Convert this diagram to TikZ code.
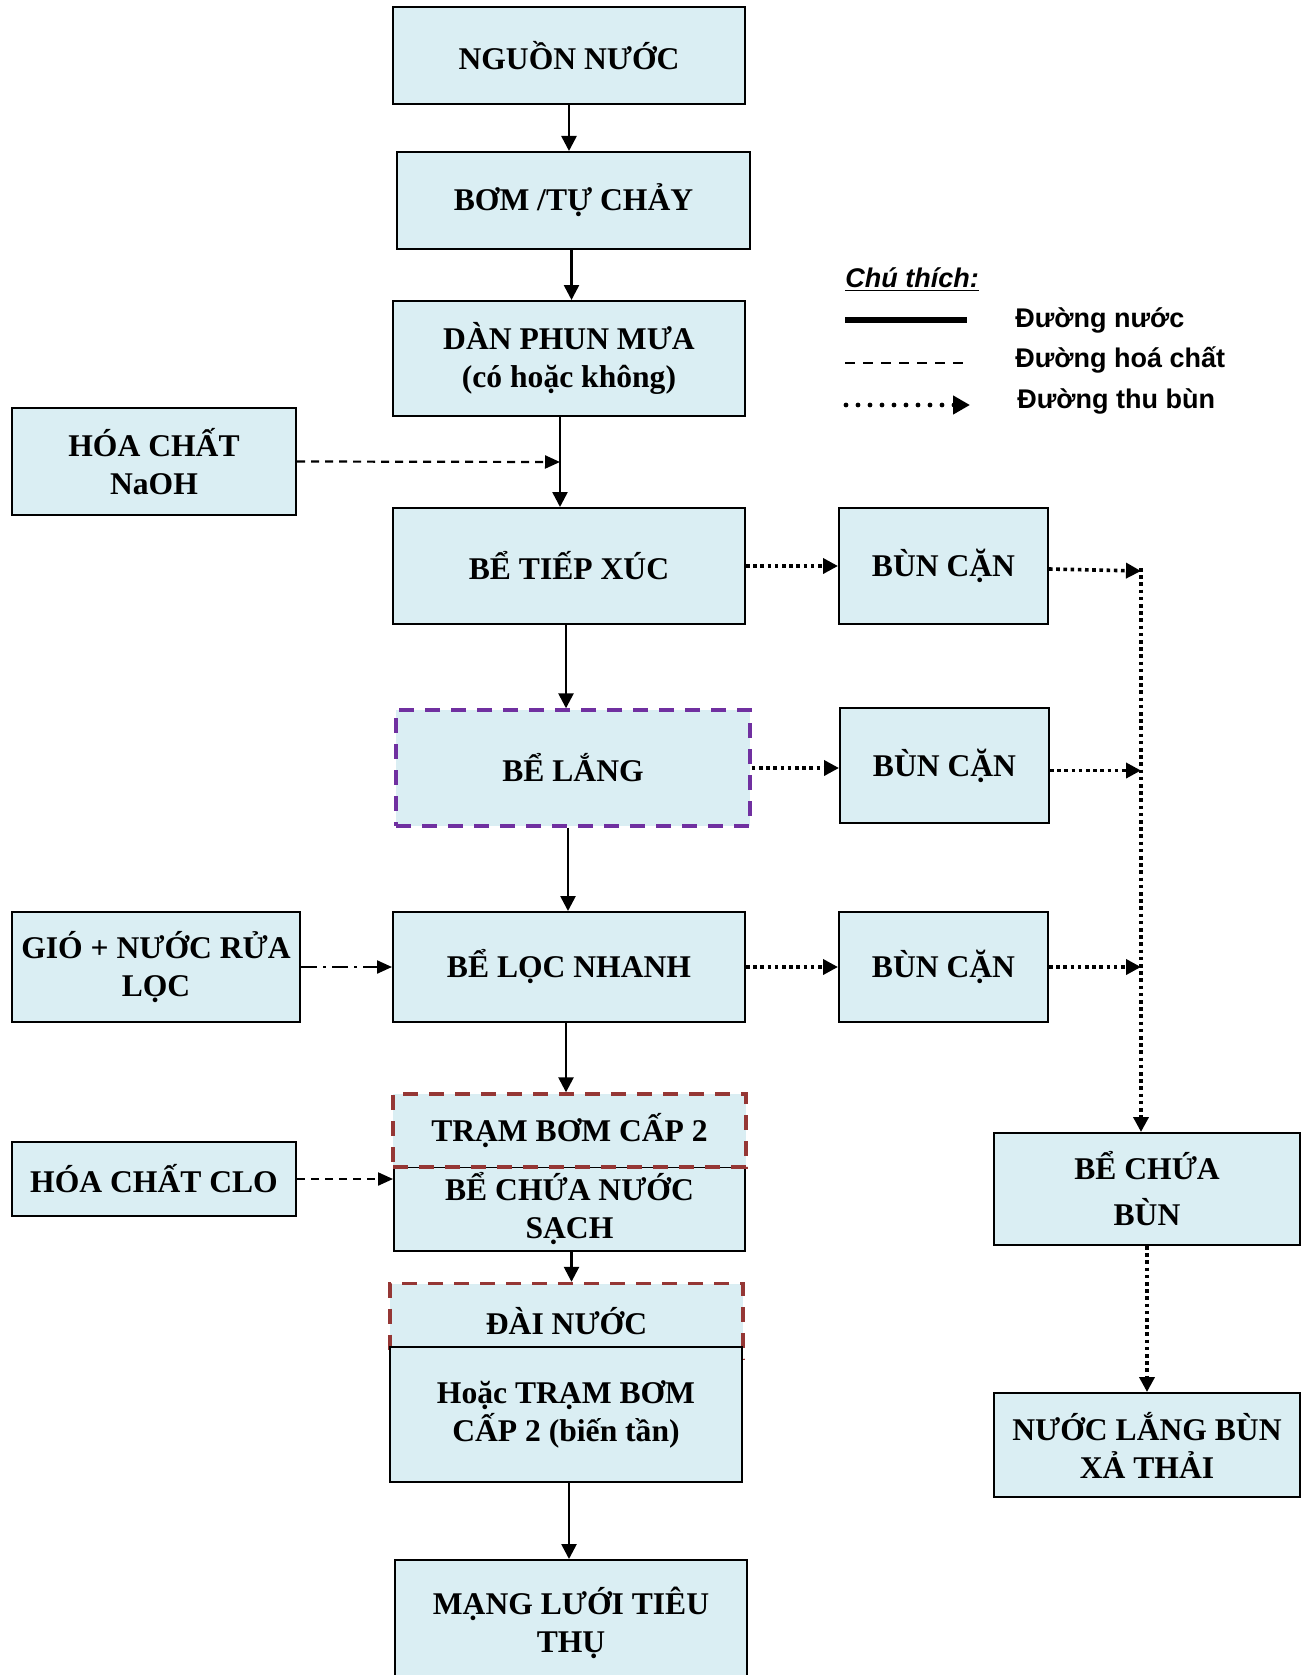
\documentclass[tikz,border=0pt]{standalone}
\usepackage{fontspec}
\setmainfont{Liberation Serif}
\newfontfamily\legendfont{Liberation Sans}
\usetikzlibrary{arrows.meta,calc}
\definecolor{boxfill}{HTML}{DAEEF3}
\definecolor{settlepurple}{HTML}{7030A0}
\definecolor{pumpred}{HTML}{953735}
\tikzset{
    flow box/.style={
        draw=black,
        line width=1pt,
        fill=boxfill,
        align=center,
        inner sep=2pt,
        font=\bfseries\fontsize{15.8}{19}\selectfont
    },
    purple box/.style={
        flow box,
        draw=settlepurple,
        line width=1.7pt,
        dash pattern=on 7.5pt off 5.5pt
    },
    red box/.style={
        flow box,
        draw=pumpred,
        line width=1.7pt,
        dash pattern=on 7.5pt off 5.5pt
    },
    water line/.style={
        line width=1.3pt,
        -{Triangle[length=7.5pt,width=7.5pt]}
    },
    chem line/.style={
        line width=1.1pt,
        dash pattern=on 4pt off 3pt,
        -{Triangle[length=7.5pt,width=6.5pt]}
    },
    air line/.style={
        line width=1.1pt,
        dash pattern=on 8pt off 3pt on 1.5pt off 3pt,
        -{Triangle[length=7.5pt,width=6.5pt]}
    },
    sludge line/.style={
        line width=1.8pt,
        dash pattern=on 1.8pt off 1.8pt,
        -{Triangle[length=7.5pt,width=7.5pt]}
    },
    legend text/.style={
        anchor=west,
        inner sep=0pt,
        font=\legendfont\bfseries\fontsize{13.5}{16}\selectfont
    }
}

\begin{document}
\begin{tikzpicture}[x=0.5pt,y=-0.5pt]
                \clip (0,0) rectangle (1307,1675);
                \node[flow box, minimum width=176pt, minimum height=48.5pt] (nguon) at (569,56) {NGUỒN NƯỚC};
                \node[flow box, minimum width=176.5pt, minimum height=48.5pt] (bom) at (573.5,200.5) {BƠM /TỰ CHẢY};
                \node[flow box, minimum width=176pt, minimum height=57.5pt] (dan) at (569,358.5) {DÀN PHUN MƯA\\(có hoặc không)};
                \node[flow box, minimum width=142pt, minimum height=53.5pt] (naoh) at (154,461.5) {HÓA CHẤT\\NaOH};
                \node[flow box, minimum width=176pt, minimum height=58pt] (tiepxuc) at (569,566) {BỂ TIẾP XÚC};
                \node[flow box, minimum width=104.5pt, minimum height=58pt] (bun1) at (943.5,566) {BÙN CẶN};
                \node[purple box, minimum width=177pt, minimum height=58pt] (lang) at (573,768) {BỂ LẮNG};
                \node[flow box, minimum width=104.5pt, minimum height=57.5pt] (bun2) at (944.5,765.5) {BÙN CẶN};
                \node[flow box, minimum width=144pt, minimum height=55pt] (gio) at (156,967) {GIÓ + NƯỚC RỬA\\LỌC};
                \node[flow box, minimum width=176pt, minimum height=55pt] (loc) at (569,967) {BỂ LỌC NHANH};
                \node[flow box, minimum width=104.5pt, minimum height=55pt] (bun3) at (943.5,967) {BÙN CẶN};
                \node[flow box, minimum width=175.5pt, minimum height=42pt] (chua) at (569.5,1209) {BỂ CHỨA NƯỚC\\SẠCH};
                \node[red box, minimum width=176.5pt, minimum height=36.5pt] (tram) at (569.5,1130.5) {TRẠM BƠM CẤP 2};
                \node[flow box, minimum width=142pt, minimum height=37pt] (clo) at (154,1179) {HÓA CHẤT CLO};
                \node[flow box, minimum width=153pt, minimum height=56pt, font=\bfseries\fontsize{15.8}{23}\selectfont] (chuabun) at (1147,1189) {BỂ CHỨA\\BÙN};
                \node[red box, minimum width=176.5pt, minimum height=37.5pt] (dai) at (566.5,1321) {ĐÀI NƯỚC};
                \node[flow box, minimum width=176pt, minimum height=67.5pt] (hoac) at (566,1414.5) {Hoặc TRẠM BƠM\\CẤP 2 (biến tần)};
                \node[flow box, minimum width=153pt, minimum height=52pt] (xathai) at (1147,1445) {NƯỚC LẮNG BÙN\\XẢ THẢI};
                \node[flow box, minimum width=176pt, minimum height=63pt] (mang) at (571,1623) {MẠNG LƯỚI TIÊU\\THỤ};

                \coordinate (mix) at (560,462);
                \coordinate (drop) at (1141,568);

                \draw[water line] (nguon.south) -- (nguon.south |- bom.north);
                \draw[water line] ($(bom.south)+(-2,0)$) -- ($(bom.south |- dan.north)+(-2,0)$);
                \draw[water line] (dan.south -| mix) -- (tiepxuc.north -| mix);
                \draw[chem line] (naoh.east) -- (mix);
                \draw[water line] ($(tiepxuc.south)+(-3,0)$) -- ($(tiepxuc.south |- lang.north)+(-3,0)$);
                \draw[water line] ($(lang.south)+(-5,0)$) -- ($(lang.south |- loc.north)+(-5,0)$);
                \draw[air line] (gio.east) -- (gio.east -| loc.west);
                \draw[water line] ($(loc.south)+(-3,0)$) -- ($(loc.south |- tram.north)+(-3,0)$);
                \draw[chem line] (clo.east) -- (clo.east -| chua.west);
                \draw[water line] ($(chua.south)+(2,0)$) -- ($(chua.south |- dai.north)+(2,0)$);
                \draw[water line] ($(hoac.south)+(3,0)$) -- ($(hoac.south |- mang.north)+(3,0)$);

                \draw[sludge line] (tiepxuc.east) -- (bun1.west);
                \draw[sludge line] (lang.east) -- (lang.east -| bun2.west);
                \draw[sludge line] (loc.east) -- (bun3.west);
                \draw[sludge line] ($(bun1.east)+(0,3)$) -- ($(drop)+(0,3)$);
                \draw[sludge line] ($(bun2.east)+(0,5)$) -- ($(bun2.east -| drop)+(0,5)$);
                \draw[sludge line] (bun3.east) -- (bun3.east -| drop);
                \draw[sludge line] (drop) -- (drop |- chuabun.north);
                \draw[sludge line] (chuabun.south) -- (xathai.north);

                \node[legend text, font=\legendfont\bfseries\itshape\fontsize{13.5}{16}\selectfont] (chuthich) at (845,280) {\underline{Chú thích:}};
                \coordinate (leg1a) at (845,320);
                \coordinate (leg1b) at (967,320);
                \coordinate (leg2a) at (845,363);
                \coordinate (leg2b) at (967,363);
                \coordinate (leg3a) at (846,405);
                \coordinate (leg3b) at (970,405);
                \draw[line width=2.7pt] (leg1a) -- (leg1b);
                \draw[line width=1pt, dash pattern=on 5pt off 4pt] (leg2a) -- (leg2b);
                \draw[line width=2.4pt, line cap=round, dash pattern=on 0pt off 6pt, -{Triangle[length=8.5pt,width=9pt]}] (leg3a) -- (leg3b);
                \node[legend text] (nuoc) at (1015,320) {Đường nước};
                \node[legend text] (hoachat) at (1015,360) {Đường hoá chất};
                \node[legend text] (thubun) at (1017,401) {Đường thu bùn};
            \end{tikzpicture}
\end{document}
